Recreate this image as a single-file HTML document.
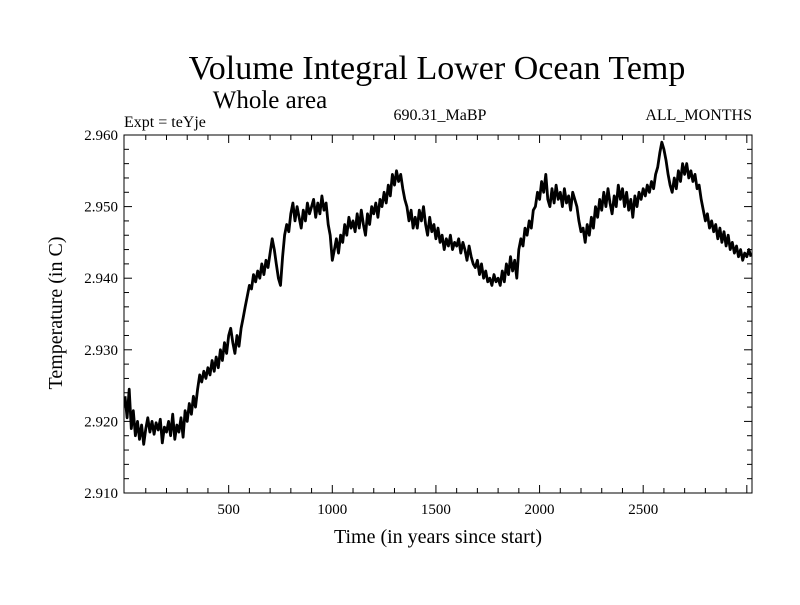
<!DOCTYPE html>
<html><head><meta charset="utf-8"><style>
body{margin:0;background:#fff}
svg text{font-family:"Liberation Serif",serif;fill:#000}
</style></head><body>
<svg id="chart" width="800" height="600" xmlns="http://www.w3.org/2000/svg">
<rect width="800" height="600" fill="#fff"/>
<text x="437" y="79" font-size="34" text-anchor="middle">Volume Integral Lower Ocean Temp</text>
<text x="270" y="108" font-size="25" text-anchor="middle">Whole area</text>
<text x="124" y="127" font-size="16">Expt = teYje</text>
<text x="440" y="120" font-size="16" text-anchor="middle">690.31_MaBP</text>
<text x="752" y="120" font-size="16" text-anchor="end">ALL_MONTHS</text>
<text transform="translate(62,313) rotate(-90)" font-size="20" text-anchor="middle">Temperature (in C)</text>
<text x="438" y="543" font-size="20" text-anchor="middle">Time (in years since start)</text>
<g id="axes"></g>
<path id="series" fill="none" stroke="#000" stroke-width="2.8" stroke-linejoin="round"/>
<rect x="124" y="135" width="628" height="358" fill="none" stroke="#000" stroke-width="1"/>
</svg>
<script>
const startYear = 0;
const stepYears = 10;
const temps = [
2.9235,2.9205,2.9245,2.9190,2.9215,2.9180,2.9200,2.9175,2.9195,2.9168,2.9190,
2.9205,2.9185,2.9200,2.9182,2.9198,2.9188,2.9203,2.9170,2.9192,2.9185,
2.9200,2.9180,2.9210,2.9175,2.9195,2.9185,2.9205,2.9178,2.9215,2.9200,
2.9225,2.9210,2.9235,2.9220,2.9245,2.9265,2.9255,2.9270,2.9260,2.9275,
2.9265,2.9285,2.9270,2.9290,2.9275,2.9300,2.9285,2.9310,2.9295,2.9320,
2.9330,2.9310,2.9295,2.9320,2.9305,2.9330,2.9345,2.9360,2.9375,2.9390,
2.9385,2.9405,2.9395,2.9410,2.9400,2.9420,2.9405,2.9425,2.9415,2.9435,
2.9455,2.9440,2.9420,2.9400,2.9390,2.9430,2.9460,2.9475,2.9465,2.9490,
2.9505,2.9480,2.9500,2.9485,2.9470,2.9495,2.9480,2.9505,2.9490,2.9500,
2.9510,2.9485,2.9505,2.9490,2.9515,2.9495,2.9505,2.9475,2.9460,2.9425,
2.9440,2.9455,2.9435,2.9460,2.9450,2.9475,2.9460,2.9485,2.9470,2.9480,
2.9465,2.9490,2.9470,2.9495,2.9475,2.9460,2.9490,2.9475,2.9500,2.9490,
2.9505,2.9485,2.9510,2.9500,2.9520,2.9505,2.9530,2.9515,2.9545,2.9530,
2.9550,2.9535,2.9545,2.9525,2.9510,2.9500,2.9480,2.9495,2.9470,2.9485,
2.9470,2.9495,2.9480,2.9500,2.9475,2.9460,2.9485,2.9465,2.9475,2.9455,
2.9470,2.9450,2.9460,2.9440,2.9455,2.9445,2.9460,2.9440,2.9450,2.9445,
2.9455,2.9435,2.9450,2.9440,2.9425,2.9445,2.9430,2.9420,2.9415,2.9425,
2.9405,2.9420,2.9400,2.9410,2.9395,2.9400,2.9390,2.9405,2.9395,2.9400,
2.9390,2.9410,2.9395,2.9420,2.9405,2.9430,2.9410,2.9425,2.9400,2.9440,
2.9455,2.9445,2.9470,2.9460,2.9480,2.9470,2.9495,2.9500,2.9520,2.9510,
2.9535,2.9520,2.9545,2.9510,2.9500,2.9525,2.9505,2.9530,2.9510,2.9520,
2.9500,2.9525,2.9505,2.9515,2.9495,2.9520,2.9510,2.9500,2.9480,2.9465,
2.9470,2.9450,2.9475,2.9460,2.9485,2.9470,2.9500,2.9485,2.9510,2.9495,
2.9520,2.9500,2.9525,2.9505,2.9490,2.9515,2.9500,2.9530,2.9510,2.9525,
2.9500,2.9520,2.9495,2.9510,2.9485,2.9515,2.9500,2.9520,2.9510,2.9525,
2.9515,2.9530,2.9520,2.9535,2.9525,2.9545,2.9555,2.9575,2.9590,2.9580,
2.9565,2.9545,2.9530,2.9520,2.9540,2.9525,2.9550,2.9535,2.9560,2.9545,
2.9560,2.9540,2.9550,2.9535,2.9545,2.9525,2.9530,2.9510,2.9495,2.9480,
2.9490,2.9470,2.9480,2.9465,2.9475,2.9455,2.9470,2.9450,2.9465,2.9445,
2.9460,2.9440,2.9450,2.9435,2.9445,2.9430,2.9440,2.9425,2.9435,2.9430,
2.9440,2.9430
];
const xTickLabels = [500,1000,1500,2000,2500];
const yTickLabels = ["2.910","2.920","2.930","2.940","2.950","2.960"];

const X0=124,X1=752,Y0=493,Y1=135;
const xMin=-5,xMax=3025,yMin=2.910,yMax=2.960;
const sx=v=>X0+(v-xMin)/(xMax-xMin)*(X1-X0);
const sy=v=>Y0-(v-yMin)/(yMax-yMin)*(Y0-Y1);
const NS="http://www.w3.org/2000/svg";
const axes=document.getElementById('axes');
function line(x1,y1,x2,y2,name){
  const l=document.createElementNS(NS,'line');
  l.setAttribute('x1',x1);l.setAttribute('y1',y1);l.setAttribute('x2',x2);l.setAttribute('y2',y2);
  l.setAttribute('stroke','#000');l.setAttribute('stroke-width','1');
  
  
  axes.appendChild(l);
}
for(let yr=100;yr<=3000;yr+=100){
  const x=sx(yr),len=yr%500===0?8:5;
  line(x,Y0,x,Y0-len,'x-tick');
  line(x,Y1,x,Y1+len,'x-tick');
}
for(let k=0;k<=25;k++){
  const v=yMin+k*0.002,y=sy(v),len=k%5===0?8:5;
  line(X0,y,X0+len,y,'y-tick');
  line(X1,y,X1-len,y,'y-tick');
}
xTickLabels.forEach(t=>{
  const e=document.createElementNS(NS,'text');
  e.setAttribute('x',sx(t));e.setAttribute('y',Y0+21);e.setAttribute('font-size','15');e.setAttribute('text-anchor','middle');
  e.textContent=t;
  
  
  axes.appendChild(e);
});
yTickLabels.forEach(t=>{
  const e=document.createElementNS(NS,'text');
  e.setAttribute('x',X0-6);e.setAttribute('y',sy(parseFloat(t))+5);e.setAttribute('font-size','15');e.setAttribute('text-anchor','end');
  e.textContent=t;
  
  
  axes.appendChild(e);
});
let d='';
temps.forEach((v,i)=>{const yr=startYear+i*stepYears;d+=(i?'L':'M')+sx(yr).toFixed(1)+','+sy(v).toFixed(1);});
document.getElementById('series').setAttribute('d',d);
</script>
</body></html>
